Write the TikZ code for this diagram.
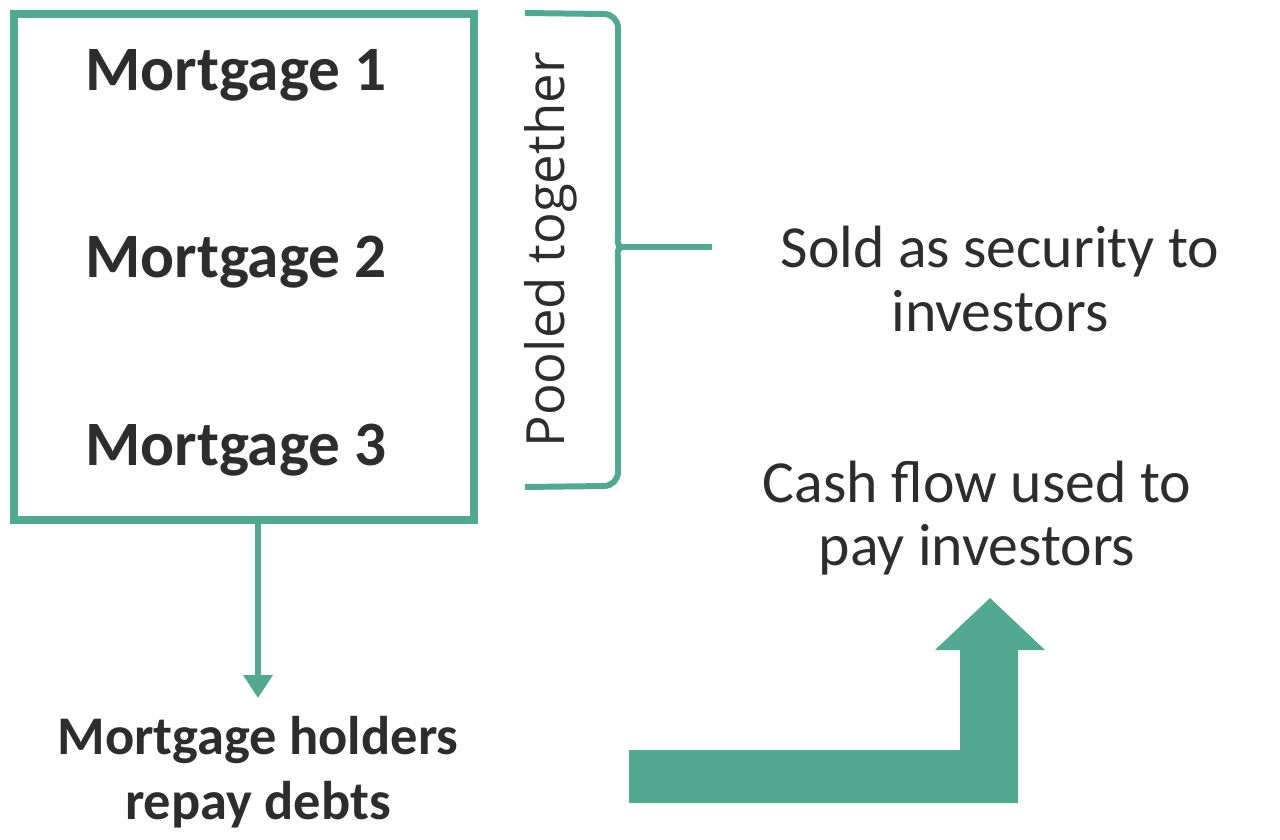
\documentclass[tikz,border=0pt]{standalone}
\usepackage{fontspec}
\setmainfont{Carlito}
\newfontfamily\poolfont{Open Sans}
\usetikzlibrary{arrows.meta}
\definecolor{mtgteal}{RGB}{82,168,145}
\definecolor{mtgtext}{RGB}{45,45,45}
\tikzset{
  mtglabel/.style={text=mtgtext, font=\fontsize{31}{37}\selectfont\bfseries, align=center, inner sep=0pt},
  stepline/.style={draw=mtgteal, line width=3.4pt}
}
\begin{document}
\begin{tikzpicture}[x=0.02cm, y=-0.02cm]
  \useasboundingbox (0,0) rectangle (1280,839);
  % pool of mortgages
  \node (pool) [draw=mtgteal, line width=4pt, minimum width=460*0.02cm, minimum height=506*0.02cm, inner sep=0pt] at (244,267) {};
  \node (m1) [mtglabel, font=\fontsize{36}{40}\selectfont\bfseries] at (236,75) {Mortgage 1};
  \node (m2) [mtglabel, font=\fontsize{36}{40}\selectfont\bfseries] at (236,262) {Mortgage 2};
  \node (m3) [mtglabel, font=\fontsize{36}{40}\selectfont\bfseries] at (236,450) {Mortgage 3};
  % brace
  \coordinate (btop) at (525,13);
  \coordinate (bbot) at (525,487);
  \coordinate (bmid) at (622,247);
  \coordinate (bend) at (712,247);
  \draw[stepline] (btop) -- (604,14) to[out=0, in=90] (618,28) -- (618,232) to[out=-90, in=180] (bmid) -- (bend);
  \draw[stepline] (bbot) -- (604,486) to[out=0, in=-90] (618,472) -- (618,262) to[out=90, in=180] (bmid);
  \node (pooled) [rotate=90, text=mtgtext, font=\poolfont\fontsize{30}{34}\selectfont, inner sep=0pt] at (551,250) {Pooled together};
  % right side texts
  \node (sold) [mtglabel, font=\fontsize{34}{36}\selectfont] at (1000,279) {Sold as security to\\investors};
  \node (cash) [mtglabel, font=\fontsize{34}{36}\selectfont] at (977,518) {Cash flow used to\\pay investors};
  % repayments
  \node (holders) [mtglabel] at (258,772) {Mortgage holders\\repay debts};
  \coordinate (down) at (258,698);
  \draw[draw=mtgteal, line width=3.4pt, -{Triangle[width=16pt, length=13pt]}] (pool.south -| down) -- (down);
  % big bent arrow
  \coordinate (tip) at (990,598);
  \fill[mtgteal] (629,750) -- (960,750) -- (960,650) -- (935,650) -- (tip) -- (1045,650) -- (1018,650) -- (1018,803) -- (629,803) -- cycle;
\end{tikzpicture}
\end{document}
